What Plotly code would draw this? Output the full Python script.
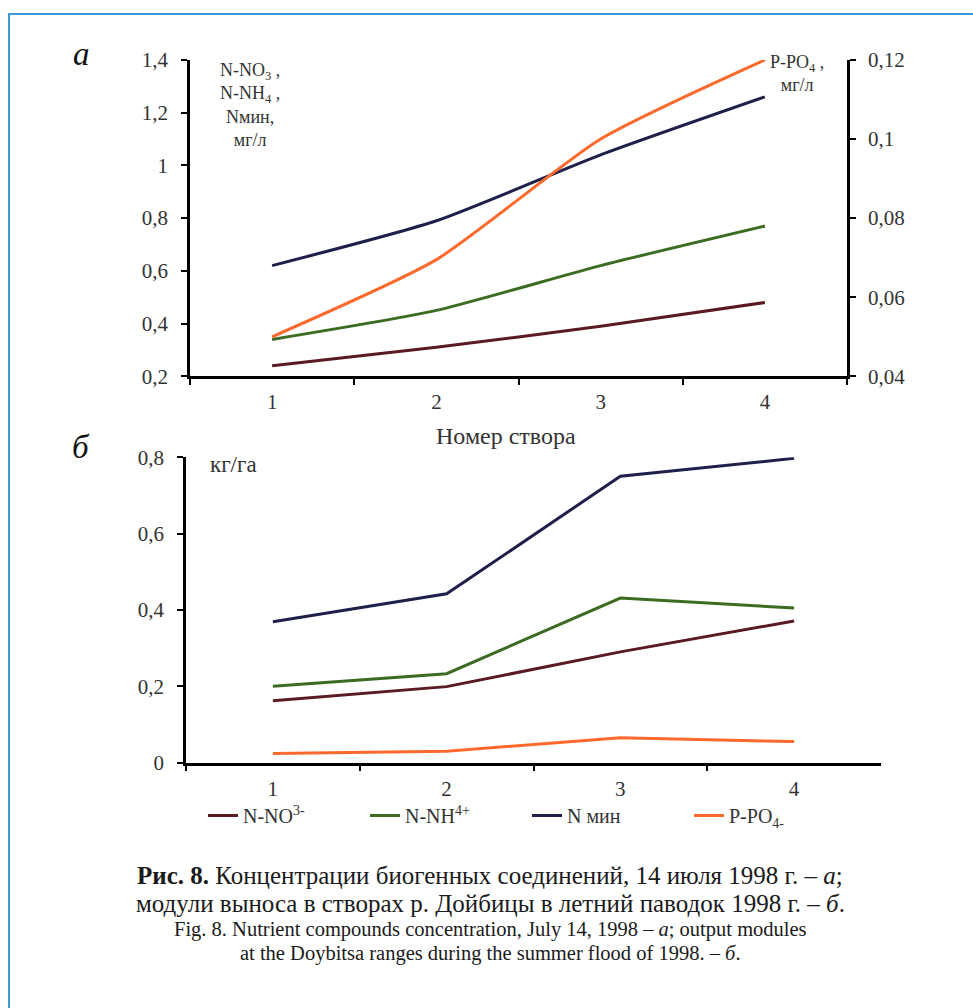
import plotly.graph_objects as go

# Cross-section numbers (створы)
stations = ["1", "2", "3", "4"]

# Panel а: concentrations, mg/l (left axis) and P-PO4 (right axis)
conc_no3 = [0.24, 0.31, 0.39, 0.48]
conc_nh4 = [0.34, 0.45, 0.62, 0.77]
conc_nmin = [0.62, 0.79, 1.04, 1.26]
conc_po4 = [0.050, 0.0695, 0.100, 0.120]

# Panel б: output modules, kg/ha
mod_no3 = [0.162, 0.199, 0.290, 0.371]
mod_nh4 = [0.200, 0.233, 0.431, 0.405]
mod_nmin = [0.369, 0.442, 0.750, 0.797]
mod_po4 = [0.024, 0.030, 0.065, 0.055]

# Tick labels (comma decimal separator)
left_ticks = [0.2, 0.4, 0.6, 0.8, 1.0, 1.2, 1.4]
left_labels = ["0,2", "0,4", "0,6", "0,8", "1", "1,2", "1,4"]
right_ticks = [0.04, 0.06, 0.08, 0.10, 0.12]
right_labels = ["0,04", "0,06", "0,08", "0,1", "0,12"]
low_ticks = [0, 0.2, 0.4, 0.6, 0.8]
low_labels = ["0", "0,2", "0,4", "0,6", "0,8"]

legend_names = ["N-NO<sup>3-</sup>", "N-NH<sup>4+</sup>", "N мин", "P-PO<sub>4-</sub>"]

C_NO3 = "#5a1a22"
C_NH4 = "#3c6b22"
C_NMIN = "#1f1f4c"
C_PO4 = "#fb6a2c"

SERIF = "Liberation Serif, Times New Roman, serif"
TICK_FONT = dict(family=SERIF, size=21, color="#333333")
LW = 3

W, H = 973, 1008
# vertical placement helpers (page pixel -> paper fraction)
Y0, YS = 10, 0.978


def px(x):
    return x / W


def py(y):
    return 1 - ((y - Y0) / YS) / H


fig = go.Figure()

# --- panel а (smoothed lines) ---
for vals, col in [(conc_no3, C_NO3), (conc_nh4, C_NH4), (conc_nmin, C_NMIN)]:
    fig.add_trace(go.Scatter(
        x=stations, y=vals, mode="lines", xaxis="x", yaxis="y",
        line=dict(color=col, width=LW, shape="spline", smoothing=0.6),
        showlegend=False, hoverinfo="skip"))
fig.add_trace(go.Scatter(
    x=stations, y=conc_po4, mode="lines", xaxis="x", yaxis="y2",
    line=dict(color=C_PO4, width=LW, shape="spline", smoothing=0.6),
    showlegend=False, hoverinfo="skip"))

# --- panel б (straight segments, with legend) ---
for vals, col, name in [(mod_no3, C_NO3, legend_names[0]),
                        (mod_nh4, C_NH4, legend_names[1]),
                        (mod_nmin, C_NMIN, legend_names[2]),
                        (mod_po4, C_PO4, legend_names[3])]:
    fig.add_trace(go.Scatter(
        x=stations, y=vals, mode="lines", xaxis="x2", yaxis="y3",
        line=dict(color=col, width=LW), name=name, hoverinfo="skip"))

axis_common = dict(showline=True, linecolor="black", linewidth=2.5,
                   ticks="outside", ticklen=6, tickwidth=2, tickcolor="black",
                   showgrid=False, zeroline=False, tickfont=TICK_FONT)

fig.update_layout(
    width=W, height=H,
    margin=dict(l=0, r=0, t=0, b=0),
    paper_bgcolor="white", plot_bgcolor="white",
    font=dict(family=SERIF, color="#333333"),
    xaxis=dict(domain=[px(190), px(847)], anchor="y", type="category",
               range=[-0.5, 3.5], tickson="boundaries",
               ticklabelstandoff=5, **axis_common),
    yaxis=dict(domain=[py(375), py(58)], anchor="x", range=[0.2, 1.4],
               tickvals=left_ticks, ticktext=left_labels,
               ticklabelstandoff=9, **axis_common),
    yaxis2=dict(overlaying="y", side="right", anchor="x", range=[0.04, 0.12],
                tickvals=right_ticks, ticktext=right_labels,
                ticklabelstandoff=8, **axis_common),
    xaxis2=dict(domain=[px(186), px(881)], anchor="y3", type="category",
                range=[-0.5, 3.5], tickson="boundaries",
                ticklabelstandoff=5, **axis_common),
    yaxis3=dict(domain=[py(762), py(456)], anchor="x2", range=[0, 0.8],
                tickvals=low_ticks, ticktext=low_labels,
                ticklabelstandoff=9, **axis_common),
    legend=dict(orientation="h", x=px(203), xanchor="left", y=py(815),
                yanchor="middle", entrywidth=117, tracegroupgap=0,
                font=dict(family=SERIF, size=20, color="#333333"),
                itemwidth=30, bgcolor="rgba(0,0,0,0)"),
    showlegend=True,
)

# Frame around the figure
fig.add_shape(type="rect", xref="paper", yref="paper",
              x0=px(9), x1=1.05, y0=-0.05, y1=py(12),
              line=dict(color="#3d9ad8", width=2), fillcolor="rgba(0,0,0,0)")


def note(text, x, y, size=15, color="#333333"):
    fig.add_annotation(text=text, xref="paper", yref="paper",
                       x=px(x), y=py(y), showarrow=False,
                       xanchor="center", yanchor="middle", align="center",
                       font=dict(family=SERIF, size=size, color=color))


# Panel letters
note("<i>а</i>", 81, 52, size=33, color="#111111")
note("<i>б</i>", 81, 446, size=33, color="#111111")

# Axis units
note("N-NO<sub>3</sub> ,<br>N-NH<sub>4</sub> ,<br>Nмин,<br>мг/л", 250, 103, size=18)
note("P-PO<sub>4</sub> ,<br>мг/л", 797, 72, size=18)
note("кг/га", 233, 463, size=23)
note("Номер створа", 506, 435, size=24)

# Caption
def cap(text, y, size):
    fig.add_annotation(text=text, xref="paper", yref="paper",
                       x=px(490), y=py(y), showarrow=False,
                       xanchor="center", yanchor="middle",
                       font=dict(family=SERIF, size=size, color="#1a1a1a"))


cap("<b>Рис. 8.</b> Концентрации биогенных соединений, 14 июля 1998 г. – <i>а</i>;", 875, 25)
cap("модули выноса в створах р. Дойбицы в летний паводок 1998 г. – <i>б</i>.", 903, 25)
cap("Fig. 8. Nutrient compounds concentration, July 14, 1998 – <i>а</i>; output modules", 929, 20.5)
cap("at the Doybitsa ranges during the summer flood of 1998. – <i>б</i>.", 953, 20.5)

fig.write_html("out.html")
